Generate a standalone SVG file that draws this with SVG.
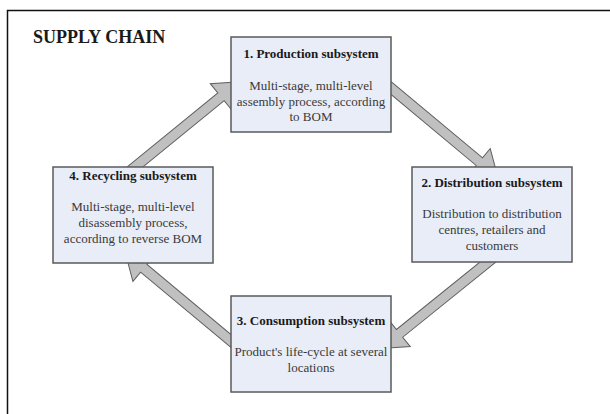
<svg xmlns="http://www.w3.org/2000/svg" width="610" height="414" viewBox="0 0 610 414">
<style>
.frame{fill:none;stroke:#111;stroke-width:1.5}
.box{fill:#e8edf7;stroke:#5a5a5a;stroke-width:1.5}
.arr{fill:#c0c0c0;stroke:#5f5f5f;stroke-width:1}
.t{font-family:"Liberation Serif","Times New Roman",serif;font-size:13px;font-weight:bold;fill:#1a1a1a;text-anchor:middle}
.b{font-family:"Liberation Serif","Times New Roman",serif;font-size:13px;fill:#3a3a3a;text-anchor:middle}
.h{font-family:"Liberation Serif","Times New Roman",serif;font-size:18px;font-weight:bold;fill:#1a1a1a}
</style>
<rect width="610" height="414" fill="#fff"/>
<rect class="frame" x="7.5" y="10.5" width="700" height="500"/>
<text class="h" x="33" y="43">SUPPLY CHAIN</text>
<g id="connectors">
<path class="arr" transform="translate(135,167) rotate(-39.2)" d="M-6,-5 H111 V-17 L135,0 L111,17 V5 H-6 Z"/>
<path class="arr" transform="translate(391,88) rotate(39.8)" d="M-6,-5 H115 V-17 L139,0 L115,17 V5 H-6 Z"/>
<path class="arr" transform="translate(488,262) rotate(141.1)" d="M-6,-5 H113.6 V-17 L137.6,0 L113.6,17 V5 H-6 Z"/>
<path class="arr" transform="translate(231,341) rotate(-140.2)" d="M-6,-5 H113.5 V-17 L137.5,0 L113.5,17 V5 H-6 Z"/>
</g>
<g id="production">
<rect class="box" x="231" y="37" width="160" height="95"/>
<text class="t" x="311" y="58">1. Production subsystem</text>
<text class="b" x="311" y="90">Multi-stage, multi-level</text>
<text class="b" x="311" y="106">assembly process, according</text>
<text class="b" x="311" y="121">to BOM</text>
</g>
<g id="distribution">
<rect class="box" x="412" y="167" width="160" height="95"/>
<text class="t" x="492" y="187">2. Distribution subsystem</text>
<text class="b" x="492" y="218">Distribution to distribution</text>
<text class="b" x="492" y="234">centres, retailers and</text>
<text class="b" x="492" y="250">customers</text>
</g>
<g id="consumption">
<rect class="box" x="231" y="296" width="160" height="96"/>
<text class="t" x="311" y="325">3. Consumption subsystem</text>
<text class="b" x="311" y="356">Product's life-cycle at several</text>
<text class="b" x="311" y="372">locations</text>
</g>
<g id="recycling">
<rect class="box" x="53" y="167" width="160" height="96"/>
<text class="t" x="133" y="180">4. Recycling subsystem</text>
<text class="b" x="133" y="211">Multi-stage, multi-level</text>
<text class="b" x="133" y="227">disassembly process,</text>
<text class="b" x="133" y="243">according to reverse BOM</text>
</g>
</svg>
